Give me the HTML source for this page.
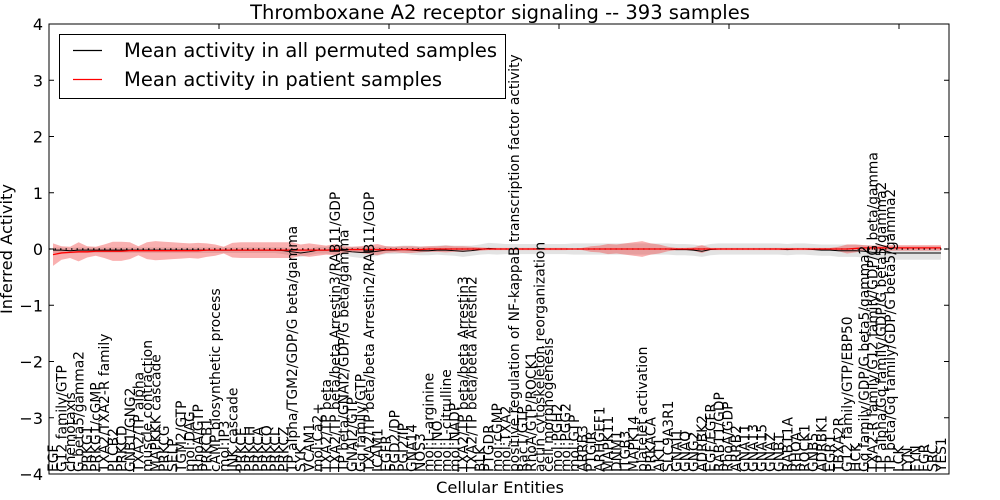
<!DOCTYPE html>
<html><head><meta charset="utf-8"><style>
html,body{margin:0;padding:0;background:#fff;}
svg{display:block;font-family:"DejaVu Sans","Liberation Sans",sans-serif;}
</style></head><body>
<svg id="chart" width="1000" height="500" viewBox="0 0 1000 500"></svg>
<script>
const labels = ["EGF","G12 family/GTP","chemotaxis","G beta5/gamma2","PRKG1","PRKG1/cGMP","TXA2/TXA2-R family","PLCB2","PRKCD","GNB1/GNG2","TXA2/TP alpha","muscle contraction","MAPKKK cascade","PRKCG","SELP","TGM2/GTP","mol:DAG","RhoA/GTP","PRKCB1","cAMP biosynthetic process","mol:IP3","JNK cascade","PRKCE","PRKCH","PRKCA","PRKCQ","PRKCI","PRKCZ","TP alpha/TGM2/GDP/G beta/gamma","SYK","VCAM1","mol:Ca2+","TXA2/TP beta","TXA2/TP beta/beta Arrestin3/RAB11/GDP","TP beta/GNAI2/GDP/G beta/gamma","GNAI2/GTP","Gq family/GTP","TXA2/TP beta/beta Arrestin2/RAB11/GDP","ICAM1","EGFR","PGD2/DP","PGI2/IP","GNA14","NOS3","mol:L-arginine","mol:NO","mol:L-citrulline","mol:NADP","TXA2/TP beta/beta Arrestin3","TXA2/TP beta/beta Arrestin2","BLK","PTGDR","mol:cGMP","mol:TXA2","positive regulation of NF-kappaB transcription factor activity","Rac1/GTP","RhoA/GTP/ROCK1","actin cytoskeleton reorganization","cell morphogenesis","mol:PGH2","mol:PGG2","mol:GTP","ARRB3","PTGIR","ARHGEF1","MAPK11","DNM1","ITGB3","MAPK14","platelet activation","PRKACA","AKT1","SLC9A3R1","GNAI1","GNAQ","GNG2","ADRBK2","EGF/EGFR","RAB11/GDP","RhoA/GDP","ARRB2","GNA11","GNA13","GNA15","GNAZ","GNB1","RAB11A","RHOA","ROCK1","GNB5","ADRBK1","EGR1","TBXA2R","G12 family/GTP/EBP50","HCK","Gq family/GDP/G beta5/gamma2","TXA2-R family/G12 family/GDP/G beta/gamma","TP alpha/Gq family/GDP/G beta5/gamma2","TP beta/Gq family/GDP/G beta5/gamma2","LCK","LYN","FYN","FGR","SRC","YES1"];
const redMean = [-0.10,-0.07,-0.06,-0.05,-0.05,-0.04,-0.04,-0.04,-0.04,-0.03,
-0.03,-0.03,-0.03,-0.03,-0.03,-0.03,-0.03,-0.03,-0.02,-0.02,
-0.02,-0.02,-0.02,-0.02,-0.02,-0.02,-0.02,-0.02,-0.02,-0.02,
-0.02,-0.02,-0.02,-0.01,-0.01,-0.01,-0.01,-0.01,-0.01,-0.01,
-0.01,-0.01,-0.01,-0.01,0,0,0,0,0,0,
0,0,0,0,0,0,0,0,0,0,
0,0,0,0,0,0,0,0,0,0,
0,0,0,0,0,0,0,0,0,0,
0,0,0,0,0,0,0,0,0,0,
0,0,0,0,0.01,0.02,0.02,0.02,0.02,0.02,
0.02,0.02,0.02,0.02,0.02];
const redHalf = [0.20,0.12,0.10,0.17,0.10,0.08,0.12,0.17,0.17,0.15,
0.08,0.15,0.17,0.16,0.15,0.14,0.13,0.14,0.12,0.10,
0.06,0.13,0.14,0.14,0.14,0.14,0.14,0.14,0.14,0.10,
0.12,0.10,0.08,0.10,0.06,0.05,0.06,0.08,0.10,0.06,
0.05,0.06,0.06,0.05,0.05,0.05,0.06,0.05,0.05,0.04,
0.03,0.02,0.02,0.02,0.02,0.02,0.02,0.02,0.02,0.02,
0.02,0.01,0.02,0.05,0.06,0.09,0.08,0.10,0.12,0.14,
0.10,0.08,0.04,0.02,0.02,0.03,0.07,0.02,0.02,0.02,
0.02,0.02,0.02,0.02,0.02,0.02,0.02,0.02,0.02,0.02,
0.02,0.02,0.04,0.08,0.07,0.05,0.04,0.05,0.05,0.05,
0.05,0.05,0.05,0.05,0.05];
const blackMean = [-0.02,-0.02,-0.03,-0.02,-0.02,-0.02,-0.02,-0.02,-0.02,-0.02,
-0.02,-0.02,-0.02,-0.02,-0.02,-0.02,-0.02,-0.02,-0.02,-0.02,
-0.02,-0.02,-0.02,-0.02,-0.02,-0.02,-0.02,-0.03,-0.05,-0.07,
-0.05,-0.02,-0.02,-0.02,-0.03,-0.05,-0.06,-0.06,-0.04,-0.02,
-0.02,-0.01,-0.02,-0.03,-0.03,-0.02,-0.02,-0.03,-0.04,-0.03,
-0.01,0.01,0,0,0,0,0,0,0,0,
0,0,0,0,0,0,0,0,0,0,
0,0,0,-0.01,-0.01,-0.02,-0.04,-0.01,0,0,
0,0,0,0,0,0,-0.01,0,0,-0.01,
-0.02,-0.02,-0.03,-0.03,-0.03,-0.04,-0.06,-0.06,-0.07,-0.07,
-0.07,-0.07,-0.07,-0.07,-0.07];
const grayHalf = [0.05,0.05,0.05,0.05,0.05,0.05,0.05,0.05,0.05,0.05,
0.05,0.05,0.05,0.05,0.05,0.05,0.05,0.05,0.05,0.05,
0.05,0.05,0.05,0.05,0.05,0.05,0.05,0.06,0.07,0.07,
0.06,0.06,0.06,0.07,0.08,0.09,0.10,0.09,0.08,0.07,
0.07,0.07,0.08,0.08,0.08,0.08,0.09,0.09,0.10,0.09,
0.09,0.10,0.10,0.09,0.09,0.09,0.09,0.09,0.09,0.09,
0.09,0.10,0.10,0.10,0.10,0.10,0.10,0.10,0.10,0.10,
0.10,0.10,0.10,0.10,0.10,0.10,0.10,0.10,0.10,0.10,
0.10,0.10,0.10,0.10,0.10,0.10,0.10,0.10,0.10,0.10,
0.10,0.10,0.11,0.11,0.11,0.11,0.12,0.12,0.12,0.12,
0.12,0.12,0.12,0.12,0.12];
const yTicks = [4,3,2,1,0,-1,-2,-3,-4];
const yTickLabels = ["4","3","2","1","0","\u22121","\u22122","\u22123","\u22124"];

const NS = "http://www.w3.org/2000/svg";
const svg = document.getElementById('chart');
const L=49, R=949, T=24, B=474;
const N = labels.length;
function xs(i){ return 53 + i*(888/(N-1)); }
function ys(v){ return T + (4 - v) * (B - T) / 8; }
function mk(tag, attrs, parent){
  const e = document.createElementNS(NS, tag);
  for (const k in attrs) e.setAttribute(k, attrs[k]);
  (parent||svg).appendChild(e);
  return e;
}
function band(mean, half){
  let up=[], dn=[];
  for(let i=0;i<N;i++){ up.push(xs(i)+','+ys(mean[i]+half[i])); dn.unshift(xs(i)+','+ys(mean[i]-half[i])); }
  return up.concat(dn).join(' ');
}
function line(mean){
  let p=[]; for(let i=0;i<N;i++) p.push(xs(i)+','+ys(mean[i])); return p.join(' ');
}
let t = mk('text',{x:500,y:19,'text-anchor':'middle','font-size':19.5});
t.textContent='Thromboxane A2 receptor signaling -- 393 samples';


const gb = mk('polygon',{points:band(blackMean,grayHalf),fill:'#c8c8c8','fill-opacity':0.5,stroke:'none'});


const rb = mk('polygon',{points:band(redMean,redHalf),fill:'#f03030','fill-opacity':0.38,stroke:'none'});


const zl = mk('line',{x1:L,x2:R,y1:ys(0),y2:ys(0),stroke:'#000','stroke-width':1.2,'stroke-dasharray':'1.5,4'});


const bl = mk('polyline',{points:line(blackMean),fill:'none',stroke:'#000','stroke-width':1});


const rl = mk('polyline',{points:line(redMean),fill:'none',stroke:'#ff0000','stroke-width':1.3});


const fr = mk('rect',{x:L,y:T,width:R-L,height:B-T,fill:'none',stroke:'#000','stroke-width':1});


yTicks.forEach((v,k)=>{
  const y=ys(v);
  const a=mk('line',{x1:L,x2:L+5,y1:y,y2:y,stroke:'#000'});
  
  
  const b=mk('line',{x1:R-5,x2:R,y1:y,y2:y,stroke:'#000'});
  
  
  const tx=mk('text',{x:L-6,y:y+6,'text-anchor':'end','font-size':16});
  tx.textContent=yTickLabels[k];
  
  
});
[20,40,60,80,100].forEach(v=>{
  const x = L + v*8.5;
  const a=mk('line',{x1:x,x2:x,y1:T,y2:T+5,stroke:'#000'});
  
  
});
for(let i=0;i<N;i++){
  const x=xs(i);
  const tx=mk('text',{x:0,y:0,'font-size':13.8,transform:'translate('+(x+5)+','+(B-2)+') rotate(-90)'});
  tx.textContent=labels[i];
  
  
}
const xt=mk('text',{x:500,y:493,'text-anchor':'middle','font-size':16.3});
xt.textContent='Cellular Entities';


const yt=mk('text',{x:0,y:0,'text-anchor':'middle','font-size':16.3,transform:'translate(12,249) rotate(-90)'});
yt.textContent='Inferred Activity';


const lg=mk('g',{});


mk('rect',{x:59.5,y:34.5,width:446,height:64,fill:'#fff',stroke:'#000','stroke-width':1},lg);
const l1=mk('line',{x1:73,x2:102,y1:50.5,y2:50.5,stroke:'#000','stroke-width':1.3},lg);


const t1=mk('text',{x:124,y:57,'font-size':19.5},lg);
t1.textContent='Mean activity in all permuted samples';


const l2=mk('line',{x1:73,x2:102,y1:79.5,y2:79.5,stroke:'#ff0000','stroke-width':1.3},lg);


const t2=mk('text',{x:124,y:86,'font-size':19.5},lg);
t2.textContent='Mean activity in patient samples';


</script>
</body></html>
